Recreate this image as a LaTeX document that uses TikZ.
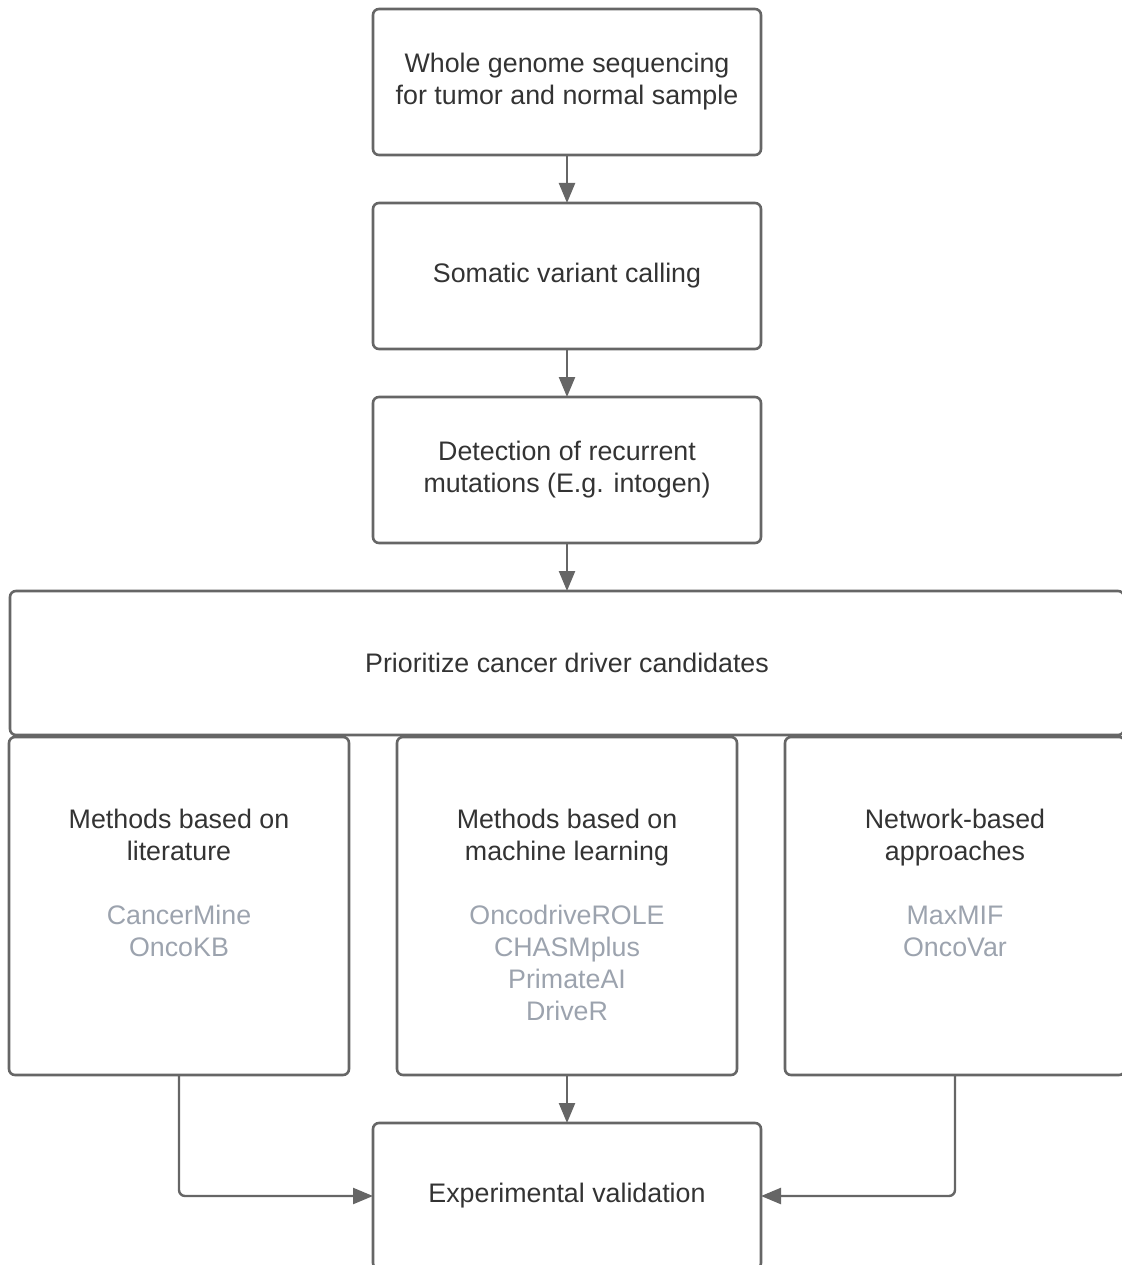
\documentclass[tikz,border=0pt]{standalone}
\usepackage{fontspec}
\setmainfont{Liberation Sans}
\usepackage{xcolor}
\usepackage{tikz}
\usetikzlibrary{arrows.meta,positioning}
\definecolor{linegray}{HTML}{666666}
\definecolor{textgray}{HTML}{333333}
\definecolor{toolgray}{HTML}{9CA3AE}
\newcommand{\tool}[1]{\textcolor{toolgray}{#1}}

\begin{document}
\begin{tikzpicture}[x=1pt, y=-1pt, node distance=48pt,
		box/.style={rectangle, draw=linegray, line width=2.6pt, rounded corners=6pt, inner sep=0pt, outer sep=0pt,
			minimum width=388pt, minimum height=146pt, align=center, text=textgray,
			font=\fontsize{26.8}{32}\selectfont},
		widebox/.style={box, minimum width=1114pt, minimum height=144pt},
		colbox/.style={box, minimum width=340pt, minimum height=338pt},
		coltext/.style={anchor=north, yshift=-72pt, inner sep=0pt, align=center, text=textgray,
			font=\fontsize{26.8}{32}\selectfont},
		arrow/.style={-{Triangle[length=20pt,width=16pt]}, draw=linegray, line width=2.4pt}]

		\useasboundingbox (0,0) rectangle (1121,1265);

		\node [box] (wgs) at (567,82) {Whole genome sequencing\\for tumor and normal sample};
		\node [box, below=of wgs] (calling) {Somatic variant calling};
		\node [box, below=of calling] (recurrent) {Detection of recurrent\\mutations (E.g. intogen)};
		\node [widebox, below=of recurrent] (prioritize) {Prioritize cancer driver candidates};

		\node [colbox, below=2pt of prioritize] (ml)
			[label={[coltext]north:Methods based on\\machine learning\\[32pt]\tool{OncodriveROLE}\\\tool{CHASMplus}\\\tool{PrimateAI}\\\tool{DriveR}}] {};
		\node [colbox, left=of ml] (lit)
			[label={[coltext]north:Methods based on\\literature\\[32pt]\tool{CancerMine}\\\tool{OncoKB}}] {};
		\node [colbox, right=of ml] (network)
			[label={[coltext]north:Network-based\\approaches\\[32pt]\tool{MaxMIF}\\\tool{OncoVar}}] {};

		\node [box, below=of ml] (validation) {Experimental validation};

		\draw [arrow] (wgs) -- (calling);
		\draw [arrow] (calling) -- (recurrent);
		\draw [arrow] (recurrent) -- (prioritize);
		\draw [arrow] (ml) -- (validation);
		\draw [arrow, rounded corners=6pt] (lit.south) |- (validation.west);
		\draw [arrow, rounded corners=6pt] (network.south) |- (validation.east);

	\end{tikzpicture}
\end{document}
